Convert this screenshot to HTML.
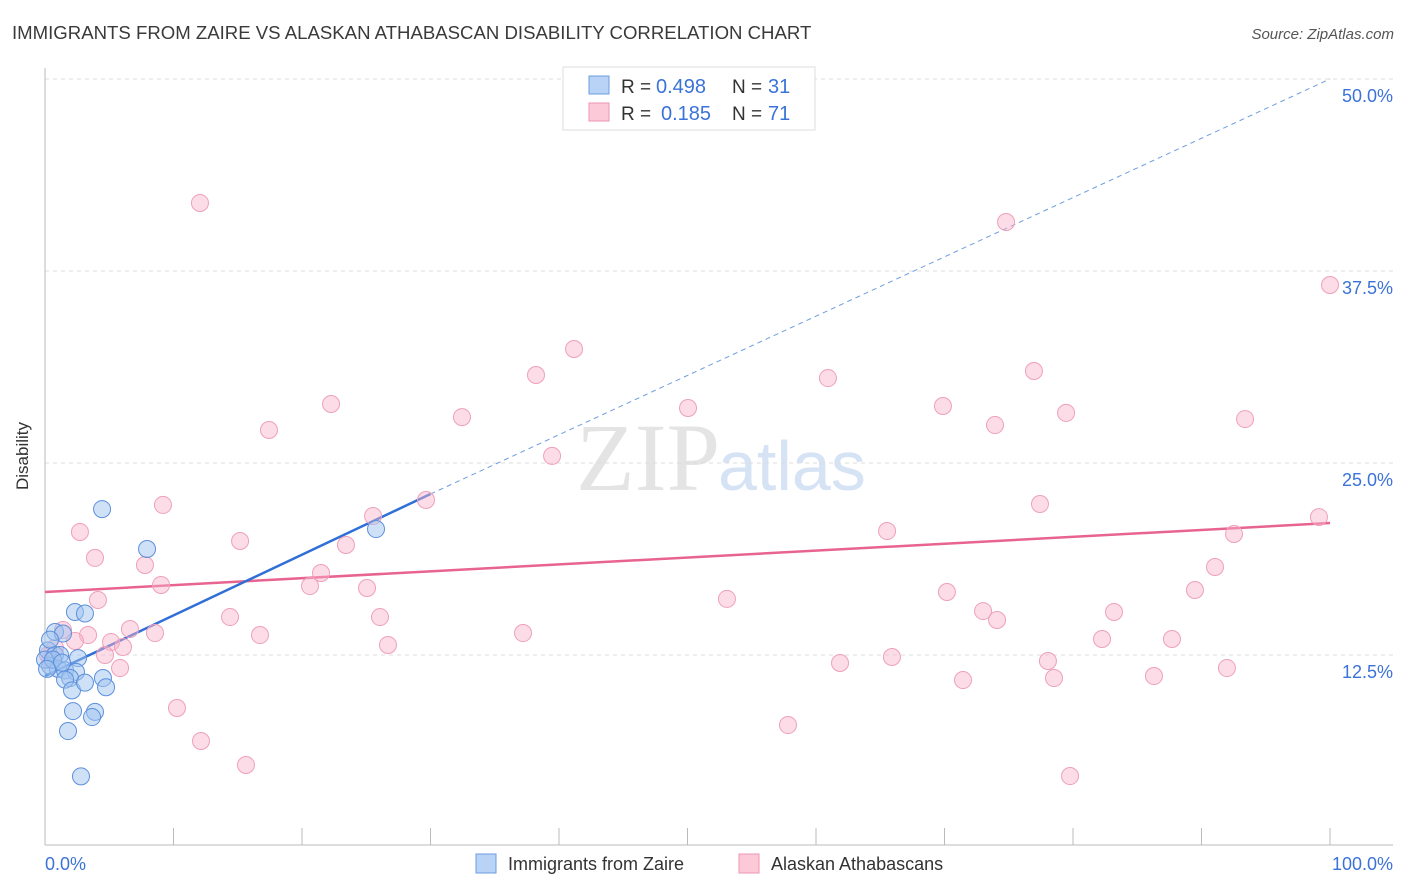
<!DOCTYPE html>
<html><head><meta charset="utf-8"><style>
body{margin:0;background:#fff;font-family:"Liberation Sans",sans-serif;}
svg{display:block}
</style></head><body>
<svg width="1406" height="892" xmlns="http://www.w3.org/2000/svg">
<text x="12" y="39" font-size="18.6" fill="#3a3a3a">IMMIGRANTS FROM ZAIRE VS ALASKAN ATHABASCAN DISABILITY CORRELATION CHART</text>
<text x="1394" y="39" font-size="15" fill="#555" font-style="italic" text-anchor="end">Source: ZipAtlas.com</text>
<text x="720" y="490" font-size="96" fill="#e4e4e4" text-anchor="end" font-family="Liberation Serif,serif">ZIP</text>
<text x="718" y="490" font-size="70" fill="#d6e3f5">atlas</text>
<g id="grid"></g><g id="axes"></g><g id="lines"></g><g id="pts"></g>
<text x="28" y="456" font-size="17" fill="#333" text-anchor="middle" transform="rotate(-90 28 456)">Disability</text>
<text x="45" y="870" font-size="18" fill="#3b73d8">0.0%</text>
<text x="1393" y="870" font-size="18" fill="#3b73d8" text-anchor="end">100.0%</text>
<g>
<rect x="563" y="67" width="252" height="63" fill="#fff" stroke="#ddd"/>
<rect x="589" y="76" width="20" height="18" fill="#b8d3f5" stroke="#6d9de0"/>
<rect x="589" y="103" width="20" height="18" fill="#fbc9d8" stroke="#ec96b2"/>
<text x="621" y="93" font-size="19" fill="#333">R =</text>
<text x="656" y="93" font-size="20" fill="#3b73d8">0.498</text>
<text x="732" y="93" font-size="19" fill="#333">N =</text>
<text x="768" y="93" font-size="20" fill="#3b73d8">31</text>
<text x="621" y="120" font-size="19" fill="#333">R =</text>
<text x="661" y="120" font-size="20" fill="#3b73d8">0.185</text>
<text x="732" y="120" font-size="19" fill="#333">N =</text>
<text x="768" y="120" font-size="20" fill="#3b73d8">71</text>
</g>
<g>
<rect x="476" y="854" width="20" height="19" fill="#b8d3f5" stroke="#6d9de0"/>
<text x="508" y="870" font-size="18" fill="#333">Immigrants from Zaire</text>
<rect x="739" y="854" width="20" height="19" fill="#fbc9d8" stroke="#ec96b2"/>
<text x="771" y="870" font-size="18" fill="#333">Alaskan Athabascans</text>
</g>
</svg>
<script>
const yTicks=[12.5,25,37.5,50];
const yTickLabels=["12.5%","25.0%","37.5%","50.0%"];
const blueX=[4.44,7.94,25.76,2.33,3.11,0.78,1.40,0.23,0.78,1.17,0.39,1.01,1.56,2.57,2.41,1.95,1.56,2.10,3.11,4.51,4.75,2.18,3.89,3.66,1.79,2.80,0.39,0,0.62,1.32,0.16];
const blueY=[22.0,19.4,20.7,15.3,15.2,14.0,13.9,12.8,12.5,12.5,11.8,11.6,11.5,12.3,11.4,11.0,10.9,10.2,10.7,11.0,10.4,8.85,8.8,8.46,7.55,4.6,13.5,12.2,12.2,12.0,11.6];
const pinkX=[12.06,74.79,100,41.17,38.21,60.93,76.96,22.26,50.04,69.88,32.45,79.46,17.43,73.93,93.39,39.46,29.65,9.18,77.43,25.53,2.72,65.53,92.53,99.14,15.18,23.42,3.89,7.78,91.05,21.48,9.03,20.62,25.06,70.19,89.49,4.12,53.07,73.0,14.4,26.07,83.19,74.09,6.61,1.40,8.56,3.35,16.73,37.2,82.26,87.7,5.14,26.69,6.07,2.33,4.67,65.91,61.87,78.05,5.84,91.98,71.44,78.52,86.3,10.27,57.82,12.14,15.64,79.77,0.39,0.78,0.23];
const pinkY=[41.93,40.69,36.59,32.42,30.73,30.53,30.99,28.84,28.58,28.71,27.99,28.26,27.15,27.47,27.86,25.46,22.59,22.27,22.33,21.55,20.51,20.57,20.38,21.48,19.92,19.66,18.82,18.36,18.23,17.84,17.06,16.99,16.86,16.6,16.73,16.08,16.15,15.36,14.97,14.97,15.3,14.78,14.19,14.13,13.93,13.8,13.8,13.93,13.54,13.54,13.35,13.15,13.02,13.41,12.5,12.37,11.98,12.11,11.65,11.65,10.87,11.0,11.13,9.05,7.94,6.9,5.34,4.62,12.17,12.96,12.5];
const blueTrend=[11.13,22.98,50.0];
const blueTrendX=[0,30,100];
const pinkTrend=[16.6,21.09];
const pinkTrendX=[0,100];
const NS="http://www.w3.org/2000/svg";
const X=v=>45+v*12.85, Y=v=>847-v*15.36;
function mk(t,a,p){const e=document.createElementNS(NS,t);for(const k in a)e.setAttribute(k,a[k]);document.getElementById(p).appendChild(e);return e;}
yTicks.forEach((t,i)=>{
 const g=mk('line',{x1:45,x2:1393,y1:Y(t),y2:Y(t),stroke:'#ddd','stroke-dasharray':'4,4'},'grid');
 
 
 const l=mk('text',{x:1393,y:Y(t)+23,'font-size':18,fill:'#3b73d8','text-anchor':'end'},'grid');
 l.textContent=yTickLabels[i];
 
 
});
const ax=mk('line',{x1:45,x2:45,y1:68,y2:845,stroke:'#bbb'},'axes');


const bx=mk('line',{x1:45,x2:1393,y1:845,y2:845,stroke:'#bbb'},'axes');


for(let k=1;k<=10;k++){const t=mk('line',{x1:X(k*10),x2:X(k*10),y1:828,y2:845,stroke:'#bbb'},'axes');
 
 }
const pl=mk('line',{x1:X(pinkTrendX[0]),y1:Y(pinkTrend[0]),x2:X(pinkTrendX[1]),y2:Y(pinkTrend[1]),stroke:'#e8638f','stroke-width':2.5},'lines');


const bd=mk('line',{x1:X(blueTrendX[1]),y1:Y(blueTrend[1]),x2:X(blueTrendX[2]),y2:Y(blueTrend[2]),stroke:'#6d9de0','stroke-width':1,'stroke-dasharray':'5,4'},'lines');


const bl=mk('line',{x1:X(blueTrendX[0]),y1:Y(blueTrend[0]),x2:X(blueTrendX[1]),y2:Y(blueTrend[1]),stroke:'#2f6fd6','stroke-width':2.5},'lines');


pinkX.forEach((x,i)=>{const c=mk('circle',{cx:X(x),cy:Y(pinkY[i]),r:8.5,fill:'rgba(248,180,202,0.45)',stroke:'#eea0ba','stroke-width':1},'pts');
 
 });
blueX.forEach((x,i)=>{const c=mk('circle',{cx:X(x),cy:Y(blueY[i]),r:8.5,fill:'rgba(160,195,240,0.5)',stroke:'#5d90dc','stroke-width':1},'pts');
 
 });
</script>
</body></html>
